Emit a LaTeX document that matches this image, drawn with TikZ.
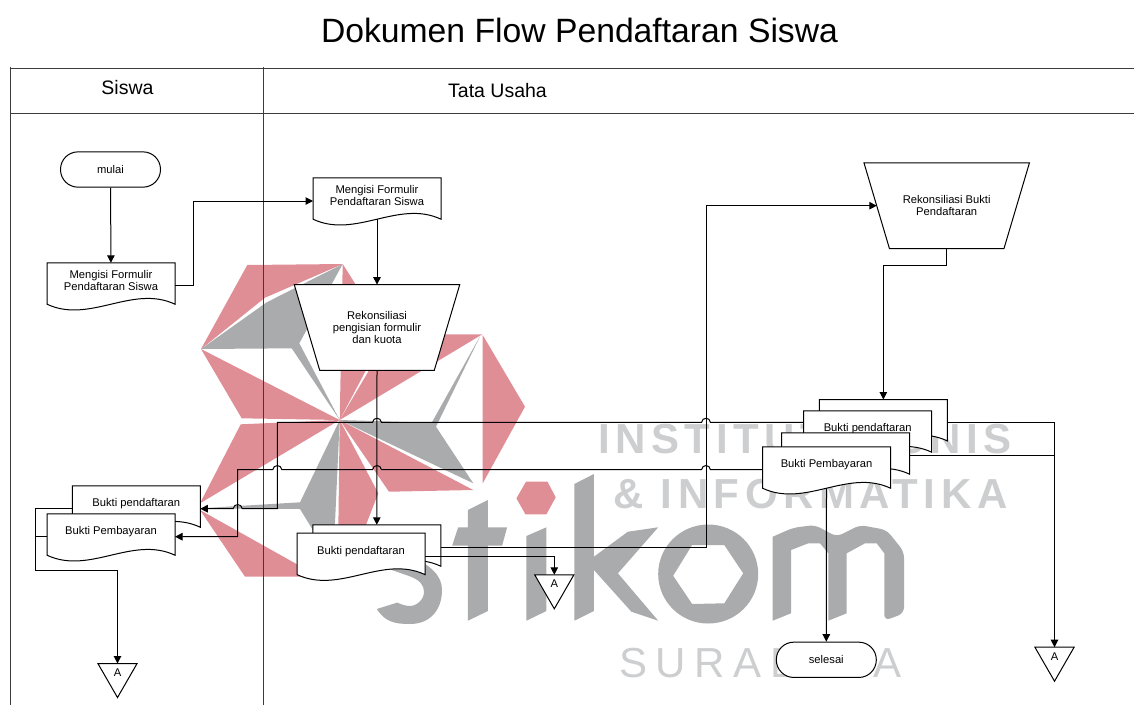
\documentclass[tikz,border=0pt]{standalone}
\usepackage{fontspec}
\setmainfont{Liberation Sans}
\newfontfamily\wmbold[LetterSpace=13.3]{Liberation Sans}
\newfontfamily\wmthin[LetterSpace=20.5]{Liberation Sans}
\usetikzlibrary{positioning, arrows.meta}
\definecolor{StikomRed}{RGB}{224,142,150}
\definecolor{StikomGray}{RGB}{170,171,173}
\definecolor{StikomLight}{RGB}{205,206,207}
\definecolor{LaneGray}{RGB}{60,60,60}

\makeatletter
% document sheet: the wave hangs below the node's south side
\pgfdeclareshape{docpage}{
  \inheritsavedanchors[from=rectangle]
  \inheritanchorborder[from=rectangle]
  \inheritanchor[from=rectangle]{center}
  \inheritanchor[from=rectangle]{north}
  \inheritanchor[from=rectangle]{south}
  \inheritanchor[from=rectangle]{east}
  \inheritanchor[from=rectangle]{west}
  \backgroundpath{
    \southwest \edef\docl{\the\pgf@x}\edef\docb{\the\pgf@y}
    \northeast \edef\docr{\the\pgf@x}\edef\doct{\the\pgf@y}
    \pgfpathmoveto{\pgfpoint{\docl}{\doct}}
    \pgfpathlineto{\pgfpoint{\docr}{\doct}}
    \pgfpathlineto{\pgfpoint{\docr}{\docb-5.6pt}}
    \pgfpathcurveto{\pgfpoint{\docl+(\docr-\docl)*0.667}{\docb+14.4pt}}
      {\pgfpoint{\docl+(\docr-\docl)*0.333}{\docb-25.6pt}}
      {\pgfpoint{\docl}{\docb-5.6pt}}
    \pgfpathclose
  }
}
% manual operation: the lower side is pulled in
\pgfdeclareshape{reconpage}{
  \inheritsavedanchors[from=rectangle]
  \inheritanchorborder[from=rectangle]
  \inheritanchor[from=rectangle]{center}
  \inheritanchor[from=rectangle]{north}
  \inheritanchor[from=rectangle]{south}
  \inheritanchor[from=rectangle]{west}
  \backgroundpath{
    \southwest \edef\docl{\the\pgf@x}\edef\docb{\the\pgf@y}
    \northeast \edef\docr{\the\pgf@x}\edef\doct{\the\pgf@y}
    \pgfpathmoveto{\pgfpoint{\docl}{\doct}}
    \pgfpathlineto{\pgfpoint{\docr}{\doct}}
    \pgfpathlineto{\pgfpoint{\docr-25.5pt}{\docb}}
    \pgfpathlineto{\pgfpoint{\docl+25.5pt}{\docb}}
    \pgfpathclose
  }
}
% off-page mark: the apex hangs below the node's box
\pgfdeclareshape{offpage}{
  \inheritsavedanchors[from=rectangle]
  \inheritanchorborder[from=rectangle]
  \inheritanchor[from=rectangle]{center}
  \inheritanchor[from=rectangle]{north}
  \inheritanchor[from=rectangle]{south}
  \backgroundpath{
    \southwest \edef\docl{\the\pgf@x}
    \northeast \edef\docr{\the\pgf@x}\edef\doct{\the\pgf@y}
    \pgfpathmoveto{\pgfpoint{\docl}{\doct}}
    \pgfpathlineto{\pgfpoint{\docr}{\doct}}
    \pgfpathlineto{\pgfpoint{(\docl+\docr)/2}{\doct-34pt}}
    \pgfpathclose
  }
}
\makeatother

% horizontal line running left, hopping over a vertical at x=#1
\newcommand{\hop}[2]{-- (#1+4.5,#2) .. controls (#1+4,#2-5.5) and (#1-4,#2-5.5) .. (#1-4.5,#2)}

\begin{document}
\begin{tikzpicture}[x=1pt, y=-1pt,
  small/.style={font=\fontsize{11.2}{12}\selectfont, align=center},
  lane/.style={draw=LaneGray, line width=1pt},
  lanelabel/.style={font=\fontsize{19.5}{22}\selectfont},
  doc/.style={shape=docpage, draw, fill=white, line width=1pt, inner sep=0pt, minimum width=127pt, minimum height=34.8pt, small},
  terminal/.style={rectangle, rounded corners=17.5pt, draw, fill=white, line width=1pt, minimum width=100pt, minimum height=35.3pt, small},
  recon/.style={shape=reconpage, draw, fill=white, line width=1pt, inner sep=0pt, minimum width=164.5pt, minimum height=84.8pt, small},
  pagemark/.style={shape=offpage, draw, fill=white, line width=1pt, inner sep=0pt, minimum width=38.2pt, minimum height=17.4pt, small},
  flow/.style={line width=1pt},
  arrow/.style={line width=1pt, -{Triangle[length=7.5pt,width=7.5pt]}},
  blade/.style={fill=StikomRed},
  wing/.style={fill=StikomGray},
  wmtext/.style={anchor=base west, inner sep=0pt, text=StikomLight}
]
\useasboundingbox (0,0) rectangle (1134,705);

% Watermark logo
\coordinate (hub) at (339.7,420);
\fill[blade] (247.3,265) -- (342.7,264) -- (265,297.7) -- (201,349) -- cycle;
\fill[wing] (201,349) -- (266.7,302.3) -- (342.7,264) -- (299.3,343.3) -- (hub) -- (291.7,348.3) -- cycle;
\fill[blade] (hub) -- (342.7,264) -- (386,332.3) -- cycle;
\fill[blade] (hub) -- (482.3,334.3) -- (390.3,334.3) -- cycle;
\fill[blade] (201,349) -- (241.7,418.3) -- (hub) -- cycle;
\fill[blade] (240.7,424.3) -- (hub) -- (200,503.3) -- cycle;
\fill[wing] (200,508.3) -- (300,502.3) -- (hub) -- (334.3,538.3) -- (320,541.7) -- (300,509) -- cycle;
\fill[blade] (hub) -- (378.3,493.3) -- (363.3,531.7) -- (338.3,531.7) -- cycle;
\fill[blade] (hub) -- (473.3,490) -- (389,491.7) -- cycle;
\fill[wing] (hub) -- (431.7,422.7) -- (480.7,335) -- (436,426.7) -- (473.3,483.3) -- cycle;
\fill[blade] (482.7,335) -- (525,406.7) -- (482.7,483.3) -- cycle;
\fill[blade] (200,510) -- (245,576.7) -- (310,576.7) -- (298.3,565) -- cycle;
\fill[blade] (516.4,498.3) -- (526,481.7) -- (547.5,481.7) -- (555.7,497.3) -- (546.4,514.3) -- (525.4,514.3) -- cycle;

% Watermark word
\fill[wing] (376.8,609) .. controls (385,622) and (395,624) .. (410,624) .. controls (430,624) and (442,610) .. (442,590) .. controls (442,575) and (430,565) .. (410,556) -- (380,556) -- (386,568) -- (409,576) .. controls (420,580) and (424,585) .. (424,592) .. controls (424,600) and (416,606) .. (410,606) .. controls (405,606) and (400,604) .. (397.5,602.5) -- cycle;
\fill[wing] (467.9,510) -- (487.9,500) -- (487.9,527.3) -- (507.1,527.3) -- (502.1,545.7) -- (487.9,545.7) -- (487.9,611) -- (467.9,620.7) -- (467.9,545.7) -- (452.1,545.7) -- (458.2,527.3) -- (467.9,527.3) -- cycle;
\fill[wing] (526.4,536) -- (546.4,527.3) -- (546.4,611) -- (526.4,620.7) -- cycle;
\fill[wing] (574.3,484) -- (593.9,474) -- (593.9,556.7) -- (627.9,531.7) -- (658.2,527.3) -- (617.9,573.3) -- (658.2,620.7) -- (631.4,611.7) -- (593.9,570) -- (593.9,611) -- (574.3,620.7) -- cycle;
\fill[wing, even odd rule] (708.2,574) ellipse [x radius=50, y radius=49.5]
  (673.2,575.7) -- (692.1,545) -- (724.3,545) -- (743.2,573.3) -- (724.3,603.3) -- (692.1,604) -- cycle;
\fill[wing, rounded corners=6pt] (772.7,536.7) -- (793.3,527.7) -- (815,525) -- (836.7,536.7) -- (860,525) -- (886.7,530) -- (904,551.7) -- (904,613.3) -- (884.3,620.7) [sharp corners] -- (884.3,553.3) -- (876.7,543.3) -- (865,543.3) -- (846.7,553.3) -- (846.7,613.3) -- (828.3,620.7) -- (828.3,553.3) -- (820,543.3) -- (808.3,543.3) -- (791,550) -- (791,613.3) -- (772.7,620.7) -- cycle;
\node[wmtext, font=\fontsize{42}{42}\wmbold\bfseries] (wminstitut) at (598,453) {INSTITUT BISNIS};
\node[wmtext, font=\fontsize{42}{42}\wmbold\bfseries] (wminformatika) at (613,508) {\& INFORMATIKA};
\node[wmtext, font=\fontsize{42}{42}\wmthin] (wmsurabaya) at (619,677) {SURABAYA};

% Title and lanes
\node[font=\fontsize{33.7}{36}\selectfont] (title) at (579.5,30) {Dokumen Flow Pendaftaran Siswa};
\draw[lane] (10,68.3) -- (1134,68.3);
\draw[lane] (10,113) -- (1134,113);
\draw[lane] (10,67) -- (10,705);
\draw[lane] (263.3,67) -- (263.3,705);
\node[lanelabel] (siswa) at (127.5,88) {Siswa};
\node[lanelabel] (tatausaha) at (497.5,91) {Tata Usaha};

% Siswa (left)
\node[terminal] (mulai) at (110.5,169.5) {mulai};
\node[doc] (formsiswa) at (111,280.7) {Mengisi Formulir\\Pendaftaran Siswa};
\node[doc] (pendsiswa) at (136.25,503.7) {Bukti pendaftaran};
\node[doc] (bayarsiswa) at (111,531.7) {Bukti Pembayaran};
\node[pagemark] (marksiswa) at (117.5,672.7) {A};

% Tata Usaha (middle)
\node[doc] (formtu) at (377,195.7) {Mengisi Formulir\\Pendaftaran Siswa};
\node[recon] (reconform) at (377,327.5) {Rekonsiliasi\\pengisian formulir\\dan kuota};
\node[doc] (pendback) at (376.8,542.7) {};
\node[doc] (pendtu) at (361,551.1) {Bukti pendaftaran};
\node[pagemark] (marktu) at (554.3,584) {A};

% Tata Usaha (right)
\node[recon] (reconbukti) at (946.7,205.7) {Rekonsiliasi Bukti\\Pendaftaran};
\node[doc] (finalback) at (883.35,417.4) {};
\draw[arrow] ([yshift=-5pt]finalback.west) \hop{706}{422.4} \hop{377}{422.4} -- (277.3,422.4) -- (277.3,508.7) \hop{237.7}{508.7} -- ([yshift=-5pt]pendsiswa.east);
\node[doc] (finalpend) at (867.65,428.7) {Bukti pendaftaran};
\node[doc] (payback) at (845.65,450.7) {};
\node[doc] (finalbayar) at (826.5,464.7) {Bukti Pembayaran};
\node[terminal] (selesai) at (826.3,659.8) {selesai};
\node[pagemark] (markfinal) at (1054.5,656.4) {A};

% Connectors
\draw[arrow] (mulai) -- (formsiswa);
\draw[arrow] ([yshift=-5pt]formsiswa.east) -- ++(18.8,0) |- ([yshift=-5.3pt]formtu.west);
\draw[arrow] ([yshift=-5.6pt]formtu.south) -- (reconform.north);
\draw[arrow] (reconform.south) -- (pendback.north);
\draw[arrow] ([yshift=-5pt]pendback.east) -- (706,547.7) |- ([xshift=12.8pt]reconbukti.west);
\draw[arrow] ([yshift=-5pt]pendtu.east) -| (marktu.north);
\draw[arrow] (reconbukti.south) -- ++(0,17) -| (finalback.north);
\draw[arrow] ([yshift=-5pt]finalback.east) -| (markfinal.north);
\draw[flow] ([yshift=-5pt]payback.east) -| (markfinal.north);
\draw[arrow] ([yshift=-5.6pt]finalbayar.south) -- (selesai.north);
\draw[arrow] ([yshift=-5pt]finalbayar.west) \hop{706}{469.7} \hop{377}{469.7} \hop{277.3}{469.7} -- (237.7,469.7) |- ([yshift=-5pt]bayarsiswa.east);
\coordinate (backcorner) at (35.2,570);
\draw[arrow] ([yshift=-5pt]pendsiswa.west) -| (backcorner) -| (marksiswa.north);
\draw[flow] ([yshift=-5pt]bayarsiswa.west) -| (backcorner);
\end{tikzpicture}
\end{document}
